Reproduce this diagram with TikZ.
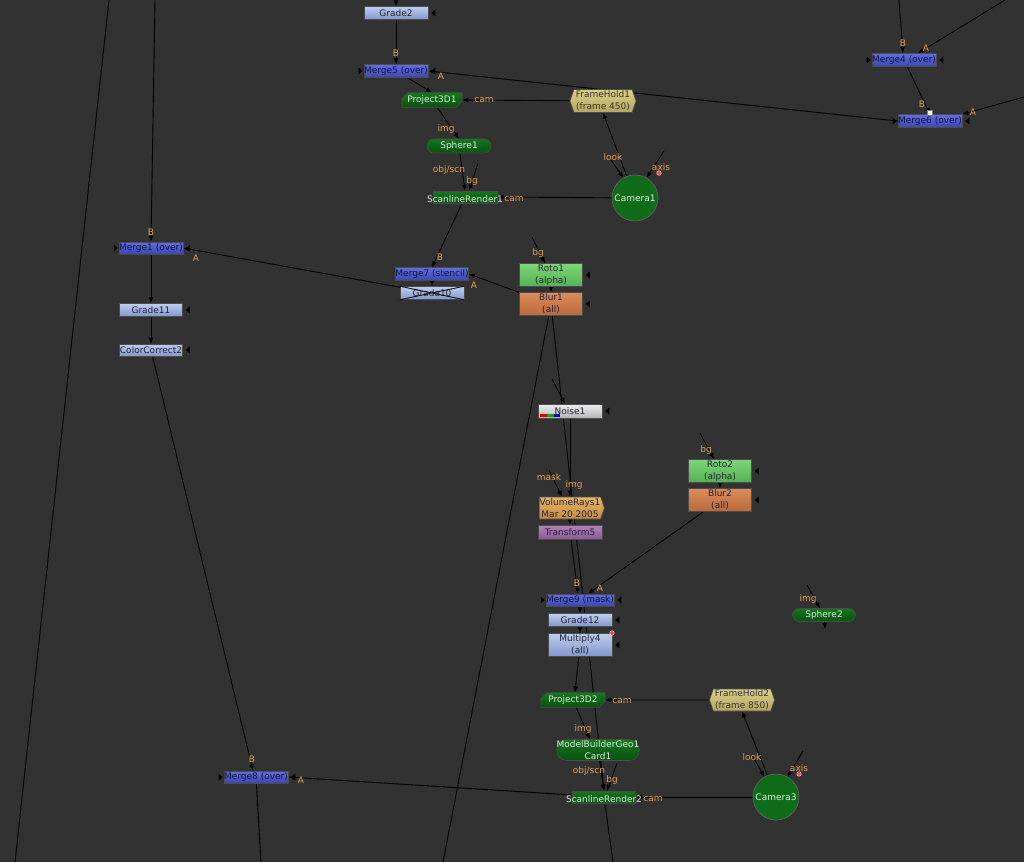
\documentclass[tikz,border=0pt]{standalone}
\usepackage{fontspec}
\setmainfont{DejaVu Sans}
\usetikzlibrary{arrows.meta,shapes.misc,shapes.geometric,shapes.symbols}
\newfontfamily\nkfam{DejaVu Sans}
\newcommand\nkfs{\nkfam\fontsize{9}{12}\selectfont}
\definecolor{bgc}{RGB}{50,50,50}
\definecolor{mergeT}{RGB}{95,110,225}
\definecolor{mergeB}{RGB}{60,70,175}
\definecolor{gradeT}{RGB}{190,205,238}
\definecolor{gradeB}{RGB}{130,150,205}
\definecolor{geoT}{RGB}{20,120,30}
\definecolor{geoB}{RGB}{8,80,16}
\definecolor{geotext}{RGB}{215,240,215}
\definecolor{rotoT}{RGB}{125,215,120}
\definecolor{rotoB}{RGB}{85,175,85}
\definecolor{blurT}{RGB}{220,140,90}
\definecolor{blurB}{RGB}{185,105,60}
\definecolor{fhT}{RGB}{220,205,135}
\definecolor{fhB}{RGB}{180,165,95}
\definecolor{vrT}{RGB}{228,180,100}
\definecolor{vrB}{RGB}{195,140,65}
\definecolor{trT}{RGB}{180,130,190}
\definecolor{trB}{RGB}{140,90,150}
\definecolor{noiseT}{RGB}{240,240,240}
\definecolor{noiseB}{RGB}{180,180,180}
\definecolor{camc}{RGB}{15,108,25}
\definecolor{nktext}{RGB}{35,35,50}
\definecolor{mtext}{RGB}{15,20,60}
\definecolor{labc}{RGB}{228,160,75}
\pgfdeclarelayer{back}
\pgfdeclarelayer{edges}
\pgfsetlayers{back,edges,main}
\newcommand\nkrtri[1]{\fill[black] ([xshift=3pt]#1) -- ++(4,-3.5) -- ++(0,7) -- cycle;}
\newcommand\nkltri[1]{\fill[black] ([xshift=-1pt]#1) -- ++(-4,-3.5) -- ++(0,7) -- cycle;}
\tikzset{
  base/.style={rectangle, inner sep=0pt, minimum width=64pt, minimum height=13pt,
    font=\nkfs, text=nktext, draw=black!70, line width=0.6pt, align=center},
  merge/.style={base, top color=mergeT, bottom color=mergeB, text=mtext},
  grade/.style={base, top color=gradeT, bottom color=gradeB},
  geo/.style={base, top color=geoT, bottom color=geoB, text=geotext},
  proj/.style={geo, chamfered rectangle, chamfered rectangle corners={north west,south east},
    chamfered rectangle xsep=3pt, chamfered rectangle ysep=3pt},
  pill/.style={geo, rounded corners=7pt, minimum height=14pt},
  roto/.style={base, top color=rotoT, bottom color=rotoB, minimum height=23pt, minimum width=63pt},
  blur/.style={base, top color=blurT, bottom color=blurB, minimum height=23pt, minimum width=63pt},
  fhold/.style={base, signal, signal to=east and west, signal pointer angle=142,
    top color=fhT, bottom color=fhB, minimum height=23pt, minimum width=66pt, text=black!80},
  cam/.style={circle, inner sep=0pt, minimum size=46pt, fill=camc, draw=black!60, line width=0.6pt,
    font=\nkfs, text=geotext},
  lab/.style={font=\nkfs, text=labc, inner sep=0pt},
  wire/.style={draw=black, line width=0.9pt, -{Latex[length=6pt,width=5pt]}},
  plainwire/.style={draw=black, line width=0.9pt},
  rdot/.style={circle, fill=red!75!white, draw=white!80!red, line width=0.5pt, minimum size=4.5pt, inner sep=0pt}
}
\begin{document}
\begin{tikzpicture}[x=1pt,y=-1pt]
\begin{pgfonlayer}{back}
\fill[bgc] (0,0) rectangle (1024,862);
\end{pgfonlayer}
\useasboundingbox (0,0) rectangle (1024,862);

% ---------- nodes ----------
\node[grade] (g2) at (396,13) {Grade2};
\node[merge] (m5) at (396,71) {Merge5 (over)};
\node[proj, minimum width=60pt, minimum height=14pt] (p3d1) at (432,100) {Project3D1};
\node[fhold] (fh1) at (603,101) {FrameHold1\\(frame 450)};
\node[cam] (cam1) at (635,198) {Camera1};
\node[pill] (sph1) at (459,146) {Sphere1};
\node[geo, minimum height=12pt, label={[lab, text=geotext, name=sr1t, label distance=-8pt]below:ScanlineRender1}] (sr1) at (465,197) {};
\node[merge] (m4) at (904,60) {Merge4 (over)};
\node[merge] (m6) at (930,121) {Merge6 (over)};
\node[merge, minimum width=63pt, minimum height=12pt] (m1) at (151,248) {Merge1 (over)};
\node[grade, minimum width=63pt] (g11) at (151,310) {Grade11};
\node[grade, minimum width=63pt, minimum height=12pt] (cc2) at (151,350) {ColorCorrect2};
\node[merge] (m7) at (432,274) {Merge7 (stencil)};
\node[grade] (g10) at (432,293) {Grade10};
\node[roto] (roto1) at (551,275) {Roto1\\(alpha)};
\node[blur] (blur1) at (551,304) {Blur1\\(all)};
\node[base, top color=noiseT, bottom color=noiseB, minimum height=14pt] (noise1) at (570,411) {Noise1};
\node[base, signal, signal to=east, signal pointer angle=142,
  top color=vrT, bottom color=vrB, minimum height=22pt, minimum width=65pt] (vr1) at (570,508) {VolumeRays1\\Mar 20 2005};
\node[base, top color=trT, bottom color=trB, minimum height=14pt] (tr5) at (570,532) {Transform5};
\node[roto] (roto2) at (720,471) {Roto2\\(alpha)};
\node[blur] (blur2) at (720,500) {Blur2\\(all)};
\node[merge, minimum height=12pt] (m9) at (580,600) {Merge9 (mask)};
\node[grade] (g12) at (580,620) {Grade12};
\node[grade, minimum height=23pt] (mul4) at (580,645) {Multiply4\\(all)};
\node[pill, minimum width=63pt, minimum height=13pt] (sph2) at (824,615) {Sphere2};
\node[proj, minimum height=14pt] (p3d2) at (573,700) {Project3D2};
\node[fhold, minimum width=65pt, minimum height=22pt] (fh2) at (742,700) {FrameHold2\\(frame 850)};
\node[geo, rounded corners=10pt, minimum width=63pt, minimum height=21pt] (mbg) at (598,750) {ModelBuilderGeo1\\Card1};
\node[cam] (cam3) at (776,797) {Camera3};
\node[geo, minimum width=63pt, minimum height=12pt, label={[lab, text=geotext, name=sr2t, label distance=-8pt]below:ScanlineRender2}] (sr2) at (604,797) {};
\node[merge, minimum height=12pt] (m8) at (256,777) {Merge8 (over)};

% Grade10 disabled cross
\draw[black, line width=0.8pt] (g10.north west) -- (g10.south east) (g10.south west) -- (g10.north east);
% Noise1 colour bars
\fill[red!85!black] ([xshift=2pt,yshift=1.5pt]noise1.south west) rectangle ++(7,-2.5);
\fill[green!70!black] ([xshift=9pt,yshift=1.5pt]noise1.south west) rectangle ++(7,-2.5);
\fill[blue!80!black] ([xshift=16pt,yshift=1.5pt]noise1.south west) rectangle ++(6,-2.5);

% free ends
\coordinate (t1) at (396,0);
\coordinate (t2) at (155,0);
\coordinate (t3) at (109,0);
\coordinate (t4) at (899,0);
\coordinate (t5) at (1005,0);
\coordinate (t6) at (1024,97);
\coordinate (b1) at (261,862);
\coordinate (b2) at (15,862);
\coordinate (b3) at (443,862);
\coordinate (b4) at (613,862);
\coordinate (b5) at (825,629);
\coordinate (s1) at (478,163);
\coordinate (s2) at (611,160);
\coordinate (s3) at (664,151);
\coordinate (s4) at (532,237);
\coordinate (s5) at (552,379);
\coordinate (s6) at (549,470);
\coordinate (s7) at (700,433);
\coordinate (s8) at (752,755);
\coordinate (s9) at (803,751);
\coordinate (s10) at (617,763);
\coordinate (s11) at (807,585);

% ---------- connectors ----------
\begin{pgfonlayer}{edges}
\draw[plainwire] (t3) -- (b2);
\draw[wire] (t1) -- (g2.north);
\draw[wire] (g2) -- (m5.north);
\draw[wire] (m6.west) -- (m5.east);
\draw[wire] (m5) -- (p3d1.north);
\draw[wire] (fh1) -- (p3d1.east);
\draw[wire] (cam1) -- (fh1.south);
\draw[wire] (cam1) -- (sr1.east);
\draw[wire] (p3d1) -- (sph1.north);
\draw[wire] (sph1) -- (sr1.north);
\draw[wire] (s1) -- ([xshift=4pt]sr1.north);
\draw[wire] (s2) -- (cam1.120);
\draw[wire] (s3) -- (cam1.60);
\draw[wire] (sr1) -- (m7.north);
\draw[wire] (m7) -- (g10.north);
\draw[wire] (blur1) -- (m7.east);
\draw[wire] (g10) -- (m1.east);
\draw[wire] (t2) -- (m1.north);
\draw[wire] (m1) -- (g11.north);
\draw[wire] (g11) -- (cc2.north);
\draw[wire] (cc2) -- ([xshift=-3pt]m8.north);
\draw[wire] (sr2) -- (m8.east);
\draw[plainwire] (m8) -- (b1);
\draw[wire] (s4) -- ([xshift=-6pt]roto1.north);
\draw[wire] (roto1) -- (blur1.north);
\draw[plainwire] (blur1) -- (b3);
\draw[wire] (blur1) -- (sr2.north);
\draw[wire] (s5) -- ([xshift=-5pt]noise1.north);
\draw[wire] (noise1) -- (vr1.north);
\draw[wire] (s6) -- ([xshift=-8pt]vr1.north);
\draw[wire] (vr1) -- (tr5.north);
\draw[wire] (tr5) -- ([xshift=-2pt]m9.north);
\draw[wire] (blur2) -- ([xshift=8pt]m9.north);
\draw[wire] (s7) -- ([xshift=-6pt]roto2.north);
\draw[wire] (roto2) -- (blur2.north);
\draw[wire] (m9) -- (g12.north);
\draw[wire] (g12) -- (mul4.north);
\draw[wire] (mul4) -- ([xshift=2pt]p3d2.north);
\draw[wire] (fh2) -- (p3d2.east);
\draw[wire] (cam3) -- (fh2.south);
\draw[wire] (cam3) -- (sr2.east);
\draw[wire] (s8) -- (cam3.120);
\draw[wire] (s9) -- (cam3.60);
\draw[wire] (p3d2) -- ([xshift=-8pt]mbg.north);
\draw[wire] (mbg) -- (sr2.north);
\draw[wire] (s10) -- ([xshift=3pt]sr2.north);
\draw[plainwire] (sr2) -- (b4);
\draw[wire] (t4) -- ([xshift=-1pt]m4.north);
\draw[wire] (t5) -- ([xshift=14pt]m4.north);
\draw[wire] (m4) -- (m6.north);
\draw[wire] (t6) -- (m6.north east);
\draw[wire] (s11) -- ([xshift=-4pt]sph2.north);
\draw[wire] (sph2) -- (b5);
\end{pgfonlayer}

% mask input triangles
\nkrtri{g2.east}
\nkrtri{roto1.east}
\nkrtri{blur1.east}
\nkrtri{noise1.east}
\nkrtri{roto2.east}
\nkrtri{blur2.east}
\nkrtri{g12.east}
\nkrtri{mul4.east}
\nkrtri{g11.east}
\nkrtri{cc2.east}
\nkrtri{m1.east}\nkltri{m1.west}
\nkrtri{m5.east}\nkltri{m5.west}
\nkrtri{m4.east}\nkltri{m4.west}
\nkrtri{m6.east}\nkltri{m6.west}
\nkrtri{m8.east}\nkltri{m8.west}
\nkrtri{m9.east}\nkltri{m9.west}

% markers
\node[rdot] (rd1) at (659,173) {};
\node[rdot] (rd2) at (799,774) {};
\node[rdot] (rd3) at (612,633) {};
\node[draw=gray, fill=white!92!gray, minimum size=5pt, inner sep=0pt] (wsq) at (930,113) {};

% input labels
\node[lab] (l1) at (396,53) {B};
\node[lab] (l2) at (441,76) {A};
\node[lab] (l3) at (903,43) {B};
\node[lab] (l4) at (926,48) {A};
\node[lab] (l5) at (922,104) {B};
\node[lab] (l6) at (973,112) {A};
\node[lab] (l7) at (484,100) {cam};
\node[lab] (l8) at (446,129) {img};
\node[lab] (l9) at (449,170) {obj/scn};
\node[lab] (l10) at (472,181) {bg};
\node[lab] (l11) at (514,199) {cam};
\node[lab] (l12) at (613,157) {look};
\node[lab] (l13) at (661,167) {axis};
\node[lab] (l14) at (151,232) {B};
\node[lab] (l15) at (196,258) {A};
\node[lab] (l16) at (440,257) {B};
\node[lab] (l17) at (474,285) {A};
\node[lab] (l18) at (538,253) {bg};
\node[lab] (l19) at (549,477) {mask};
\node[lab] (l20) at (574,485) {img};
\node[lab] (l21) at (706,450) {bg};
\node[lab] (l22) at (577,583) {B};
\node[lab] (l23) at (600,588) {A};
\node[lab] (l24) at (808,599) {img};
\node[lab] (l25) at (622,701) {cam};
\node[lab] (l26) at (583,729) {img};
\node[lab] (l27) at (589,771) {obj/scn};
\node[lab] (l28) at (612,780) {bg};
\node[lab] (l29) at (653,799) {cam};
\node[lab] (l30) at (752,757) {look};
\node[lab] (l31) at (799,768) {axis};
\node[lab] (l32) at (252,759) {B};
\node[lab] (l33) at (301,780) {A};
\end{tikzpicture}
\end{document}
